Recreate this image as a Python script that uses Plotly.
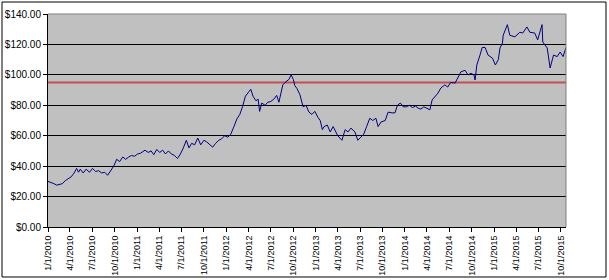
import plotly.graph_objects as go

dates = [
"2010-01-01","2010-01-13","2010-01-25","2010-02-06","2010-02-18","2010-03-01","2010-03-13","2010-03-25",
"2010-04-06","2010-04-18","2010-04-28","2010-05-06","2010-05-13","2010-05-25","2010-06-06","2010-06-20",
"2010-07-02","2010-07-15","2010-07-27","2010-08-09","2010-08-21","2010-09-02","2010-09-15","2010-09-27",
"2010-10-09","2010-10-21","2010-11-03","2010-11-15","2010-11-27","2010-12-09","2010-12-21",
"2011-01-03","2011-01-15","2011-02-02","2011-02-15","2011-02-27","2011-03-10","2011-03-22","2011-04-03",
"2011-04-15","2011-04-27","2011-05-09","2011-05-21","2011-06-03","2011-06-15","2011-06-27","2011-07-09",
"2011-07-21","2011-08-01","2011-08-12","2011-08-24","2011-09-06","2011-09-18","2011-10-01","2011-10-12",
"2011-10-24","2011-11-06","2011-11-18","2011-12-01","2011-12-13","2011-12-25",
"2012-01-07","2012-01-19","2012-02-01","2012-02-13","2012-02-25","2012-03-07","2012-03-19","2012-04-01",
"2012-04-10","2012-04-19","2012-05-01","2012-05-10","2012-05-16","2012-05-25","2012-06-07","2012-06-19",
"2012-07-01","2012-07-13","2012-07-25","2012-08-03","2012-08-12","2012-08-19","2012-08-28","2012-09-07",
"2012-09-13","2012-09-22","2012-10-01","2012-10-07","2012-10-16","2012-10-28","2012-11-10","2012-11-22",
"2012-12-04","2012-12-16","2012-12-28",
"2013-01-10","2013-01-19","2013-01-28","2013-02-04","2013-02-17","2013-03-01","2013-03-13","2013-03-25",
"2013-04-01","2013-04-18","2013-05-01","2013-05-13","2013-05-25","2013-06-10","2013-06-22","2013-07-04",
"2013-07-16","2013-07-28","2013-08-10","2013-08-22","2013-09-04","2013-09-13","2013-09-25","2013-10-12",
"2013-10-24","2013-11-09","2013-11-21","2013-12-01","2013-12-13","2013-12-25",
"2014-01-07","2014-01-19","2014-02-01","2014-02-13","2014-02-25","2014-03-07","2014-03-19","2014-04-01",
"2014-04-13","2014-04-22","2014-05-04","2014-05-16","2014-05-28","2014-06-13","2014-06-25","2014-07-07",
"2014-07-25","2014-08-06","2014-08-18","2014-09-04","2014-09-16","2014-09-28","2014-10-10","2014-10-15",
"2014-10-22","2014-11-04","2014-11-13","2014-11-25","2014-12-07","2014-12-25",
"2015-01-06","2015-01-18","2015-01-25","2015-02-04","2015-02-07","2015-02-24","2015-03-06","2015-03-27",
"2015-04-16","2015-04-28","2015-05-15","2015-05-27","2015-06-16","2015-06-28","2015-07-16","2015-07-19",
"2015-08-06","2015-08-18","2015-09-01","2015-09-16","2015-09-28","2015-10-10","2015-10-22",
]

prices = [
30, 29.5, 28.5, 27.5, 27.8, 28.5, 30.5, 32,
33, 35.5, 38.5, 36, 38, 35.5, 38, 36,
38.5, 36.5, 37, 35.5, 36, 34, 37, 40,
44.5, 43, 46, 44.5, 46, 47, 46.5,
48, 48.5, 50.5, 49, 50, 47.5, 51, 49,
50.5, 48, 50, 48, 47, 45, 48, 52,
57, 52, 55, 54, 58.5, 54, 57, 56,
54, 52.5, 55, 57, 58, 60,
59, 61, 66, 71, 74, 79, 86, 88.5,
90.5, 86, 83, 84, 76, 81.5, 80, 82,
82.5, 84, 86.5, 82, 88, 93.4, 95, 96,
97, 100, 97, 93, 91, 87, 79, 80,
75.5, 74, 76,
72, 70, 64, 66, 67, 62.5, 66, 62.5,
60, 57, 64, 62.5, 65, 62.5, 57, 59,
61, 66, 71.5, 70, 71.5, 66, 69, 70,
75.5, 75, 75, 80, 81.5, 79,
79, 80, 78.5, 79.5, 78, 77.5, 79, 78,
77, 83.5, 85.5, 88, 91.4, 93.4, 92, 95,
94.6, 98.6, 102, 103, 100, 101, 100, 96.6,
106.5, 113, 118, 118, 113, 111,
106.5, 110, 117.7, 121, 126, 133, 126, 125,
128, 127.5, 131.5, 128, 127.5, 123, 133, 121.6,
117.7, 104.5, 113, 112, 115, 112, 118,
]

threshold = 95

tick_dates = [
"2010-01-01","2010-04-01","2010-07-01","2010-10-01",
"2011-01-01","2011-04-01","2011-07-01","2011-10-01",
"2012-01-01","2012-04-01","2012-07-01","2012-10-01",
"2013-01-01","2013-04-01","2013-07-01","2013-10-01",
"2014-01-01","2014-04-01","2014-07-01","2014-10-01",
"2015-01-01","2015-04-01","2015-07-01","2015-10-01",
]
tick_labels = [
"1/1/2010","4/1/2010","7/1/2010","10/1/2010",
"1/1/2011","4/1/2011","7/1/2011","10/1/2011",
"1/1/2012","4/1/2012","7/1/2012","10/1/2012",
"1/1/2013","4/1/2013","7/1/2013","10/1/2013",
"1/1/2014","4/1/2014","7/1/2014","10/1/2014",
"1/1/2015","4/1/2015","7/1/2015","10/1/2015",
]
y_ticks = [0, 20, 40, 60, 80, 100, 120, 140]
y_labels = ["$%.2f" % v for v in y_ticks]

fig = go.Figure()
fig.add_trace(go.Scatter(
    x=[dates[0], dates[-1]], y=[threshold, threshold], mode="lines",
    line=dict(color="#C0504D", width=2), hoverinfo="skip", showlegend=False))
fig.add_trace(go.Scatter(
    x=dates, y=prices, mode="lines",
    line=dict(color="#000080", width=1), showlegend=False))

font = dict(family="Liberation Sans, Arial, sans-serif", size=10, color="black")
xfont = dict(family="Liberation Sans, Arial, sans-serif", size=9, color="black")

fig.update_layout(
    width=609, height=280,
    margin=dict(l=48, r=43, t=14, b=53, autoexpand=False),
    paper_bgcolor="white",
    plot_bgcolor="#C0C0C0",
    font=font,
    showlegend=False,
    xaxis=dict(
        type="date", range=[dates[0], dates[-1]], automargin=False,
        tickmode="array", tickvals=tick_dates, ticktext=tick_labels,
        tickangle=-90, ticks="outside", ticklen=4, tickcolor="black",
        showgrid=False, showline=True, linecolor="black", linewidth=1,
        zeroline=False, tickfont=xfont,
    ),
    yaxis=dict(
        range=[0, 140], tickmode="array", tickvals=y_ticks, ticktext=y_labels,
        automargin=False,
        ticks="outside", ticklen=4, tickcolor="black",
        showgrid=True, gridcolor="black", gridwidth=1,
        showline=True, linecolor="black", linewidth=1,
        zeroline=False, tickfont=font,
    ),
    shapes=[
        dict(type="line", xref="paper", yref="paper", x0=0, x1=1, y0=1, y1=1,
             line=dict(color="#808080", width=1), layer="above"),
        dict(type="line", xref="paper", yref="paper", x0=1, x1=1, y0=0, y1=1,
             line=dict(color="#808080", width=1), layer="above"),
        dict(type="rect", xref="paper", yref="paper",
             x0=-0.0888, x1=1.0772, y0=-0.2347, y1=1.0563,
             line=dict(color="black", width=1), layer="above"),
    ],
)

fig.write_html("out.html")
